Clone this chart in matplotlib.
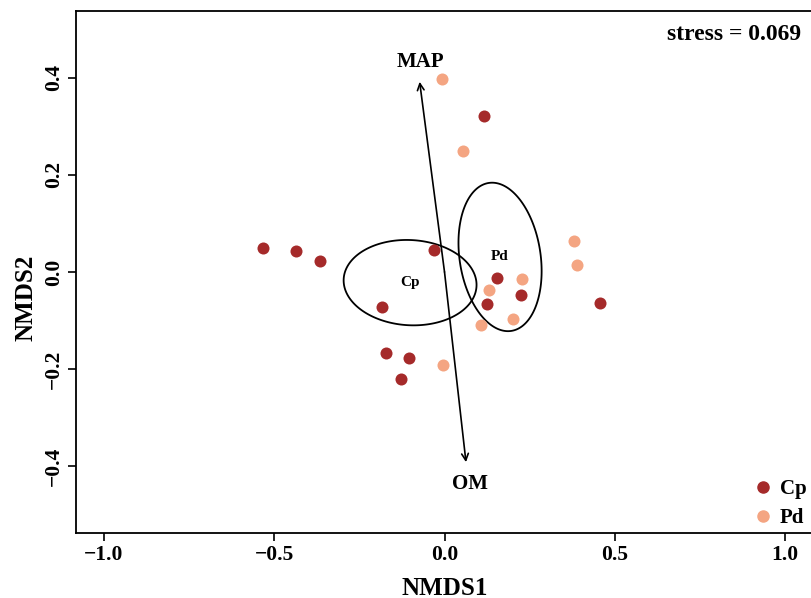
import numpy as np
import matplotlib
matplotlib.use("Agg")
from matplotlib import pyplot as plt
from matplotlib.lines import Line2D
from matplotlib.patches import Polygon

plt.rcParams['font.family'] = ['Liberation Serif', 'DejaVu Serif']
plt.rcParams['font.weight'] = 'bold'

# NMDS site scores
cp_x = [-0.534, -0.435, -0.364, -0.032, -0.182, -0.173, -0.103, -0.129, 0.115, 0.153, 0.124, 0.224, 0.455]
cp_y = [0.049, 0.043, 0.023, 0.045, -0.072, -0.167, -0.177, -0.221, 0.322, -0.012, -0.066, -0.047, -0.064]
pd_x = [-0.006, 0.053, 0.379, 0.390, 0.228, 0.130, 0.200, 0.106, -0.005]
pd_y = [0.398, 0.249, 0.064, 0.014, -0.014, -0.037, -0.096, -0.110, -0.192]

# group ellipses: centre x, centre y, x half-width, y half-width, tilt (deg)
groups = ['Cp', 'Pd']
ell_cx = [-0.101, 0.163]
ell_cy = [-0.022, 0.031]
ell_rx = [0.195, 0.122]
ell_ry = [0.088, 0.153]
ell_tilt = [-3, -11]

# envfit vectors
vec_names = ['MAP', 'OM']
vec_x = [-0.073, 0.063]
vec_y = [0.392, -0.392]
vec_lab_x = [-0.07, 0.075]
vec_lab_y = [0.433, -0.437]

col_cp = '#A52A2A'
col_pd = '#F4A582'

fig = plt.figure(figsize=(8.11, 5.98), dpi=100)
ax = fig.add_axes([0.0943, 0.1087, 0.9076, 0.873])

ax.scatter(cp_x, cp_y, s=75, color=col_cp, zorder=3, linewidths=0)
ax.scatter(pd_x, pd_y, s=75, color=col_pd, zorder=3, linewidths=0)

t = np.linspace(0, 2 * np.pi, 300, endpoint=False)
for g, cx, cy, rx, ry, d in zip(groups, ell_cx, ell_cy, ell_rx, ell_ry, ell_tilt):
    ex = cx + rx * np.cos(t)
    ey = cy + ry * np.sin(t + np.deg2rad(d))
    ax.add_patch(Polygon(np.column_stack([ex, ey]), closed=True, fill=False,
                         edgecolor='black', lw=1.3, zorder=2))
    ax.text(cx, cy, g, ha='center', va='center', fontsize=11, fontweight='bold')

for name, vx, vy, lx, ly in zip(vec_names, vec_x, vec_y, vec_lab_x, vec_lab_y):
    ax.annotate('', xy=(vx, vy), xytext=(0, 0),
                arrowprops=dict(arrowstyle='->', lw=1.2, color='black',
                                mutation_scale=12, shrinkA=0, shrinkB=0))
    ax.text(lx, ly, name, ha='center', va='center', fontsize=15, fontweight='bold')

ax.text(0.985, 0.955, 'stress = 0.069', transform=ax.transAxes, ha='right',
        va='center', fontsize=17, fontweight='bold')

handles = [Line2D([], [], marker='o', ls='', color=col_cp, markersize=8),
           Line2D([], [], marker='o', ls='', color=col_pd, markersize=8)]
ax.legend(handles, groups, loc='lower right', frameon=False, fontsize=15,
          handletextpad=0.2, labelspacing=0.4, borderaxespad=0.3,
          handlelength=1.2, bbox_to_anchor=(1.012, -0.018))

ax.set_xlim(-1.08, 1.08)
ax.set_ylim(-0.538, 0.538)
ax.set_xticks([-1.0, -0.5, 0.0, 0.5, 1.0])
ax.set_yticks([-0.4, -0.2, 0.0, 0.2, 0.4])
ax.set_xticklabels(['\u22121.0', '\u22120.5', '0.0', '0.5', '1.0'])
ax.set_yticklabels(['\u22120.4', '\u22120.2', '0.0', '0.2', '0.4'], rotation=90, va='center')
ax.tick_params(axis='both', labelsize=15.5, length=6, width=1.2, direction='out', pad=3)
for s in ax.spines.values():
    s.set_linewidth(1.3)

ax.set_xlabel('NMDS1', fontsize=18, fontweight='bold', labelpad=8)
ax.set_ylabel('NMDS2', fontsize=18, fontweight='bold')
ax.yaxis.set_label_coords(-0.053, 0.45)

fig.savefig('out.png', dpi=100)
